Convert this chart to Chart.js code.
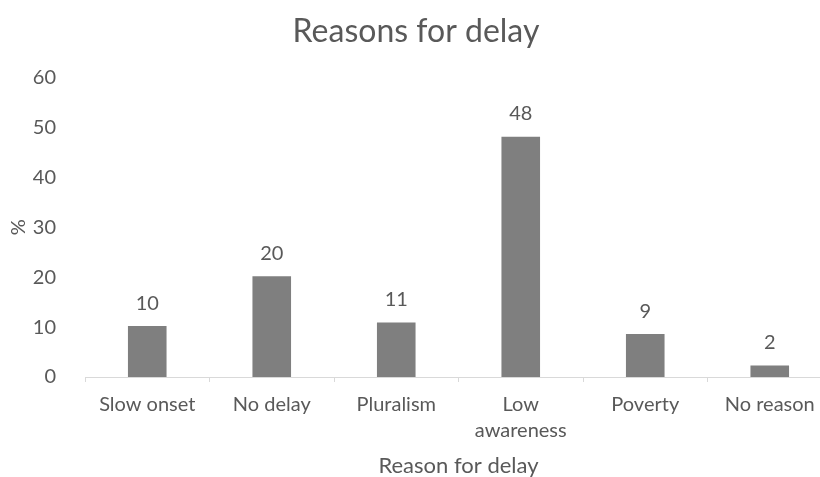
<!DOCTYPE html>
<html>
<head>
<meta charset="utf-8">
<script src="https://cdn.jsdelivr.net/npm/chart.js@4/dist/chart.umd.min.js"></script>
<style>
  html, body { margin: 0; padding: 0; background: #ffffff; overflow: hidden; }
  #wrap { position: relative; width: 832px; height: 477px; }
</style>
</head>
<body>
<div id="wrap"><canvas id="chart"></canvas></div>
<script>
// Share of respondents by reason for delay (%)
const categories = ["Slow onset", "No delay", "Pluralism", ["Low", "awareness"], "Poverty", "No reason"];
const percentages = [10.2, 20.2, 10.9, 48.1, 8.6, 2.3];
const yTicks = [0, 10, 20, 30, 40, 50, 60];

const textColor = '#595959';
const fontFamily = 'Lato, "Open Sans", sans-serif';

// Value labels above each bar, rounded to whole percent
const barValueLabels = {
  id: 'barValueLabels',
  afterDatasetsDraw(chart) {
    const ctx = chart.ctx;
    const meta = chart.getDatasetMeta(0);
    ctx.save();
    ctx.fillStyle = textColor;
    ctx.font = '20px ' + fontFamily;
    ctx.textAlign = 'center';
    ctx.textBaseline = 'middle';
    meta.data.forEach((bar, i) => {
      ctx.fillText(String(Math.round(percentages[i])), bar.x, bar.y - 23);
    });
    ctx.restore();
  }
};

new Chart(document.getElementById('chart'), {
  type: 'bar',
  data: {
    labels: categories,
    datasets: [{
      data: percentages,
      backgroundColor: '#7f7f7f',
      borderWidth: 0,
      categoryPercentage: 1,
      barPercentage: 0.31
    }]
  },
  options: {
    responsive: true,
    maintainAspectRatio: false,
    animation: false,
    layout: { padding: { top: 0, right: 0, bottom: 0, left: 0 } },
    plugins: {
      legend: { display: false },
      tooltip: { enabled: false },
      title: {
        display: true,
        text: 'Reasons for delay',
        color: textColor,
        font: { family: fontFamily, size: 32, weight: 'normal' },
        padding: { top: 12, bottom: 27 }
      }
    },
    scales: {
      x: {
        grid: {
          display: true,
          drawOnChartArea: false,
          drawTicks: true,
          tickLength: 5,
          color: '#d9d9d9',
          offset: true
        },
        border: { display: true, color: '#d9d9d9', width: 1 },
        ticks: {
          color: textColor,
          font: { family: fontFamily, size: 20, lineHeight: 1.3 },
          padding: 10,
          maxRotation: 0,
          autoSkip: false
        },
        title: {
          display: true,
          text: 'Reason for delay',
          color: textColor,
          font: { family: fontFamily, size: 22 },
          padding: { top: 0, bottom: -2 }
        },
        afterFit(scale) { scale.height = 100; }
      },
      y: {
        min: 0,
        max: 60,
        afterBuildTicks(scale) { scale.ticks = yTicks.map(v => ({ value: v })); },
        grid: { display: false },
        border: { display: false },
        ticks: {
          color: textColor,
          font: { family: fontFamily, size: 20 },
          padding: 21
        },
        title: {
          display: true,
          text: '%',
          color: textColor,
          font: { family: fontFamily, size: 20 },
          padding: { top: 7, bottom: 0 }
        },
        afterFit(scale) { scale.width = 85; }
      }
    }
  },
  plugins: [barValueLabels]
});
</script>
</body>
</html>
